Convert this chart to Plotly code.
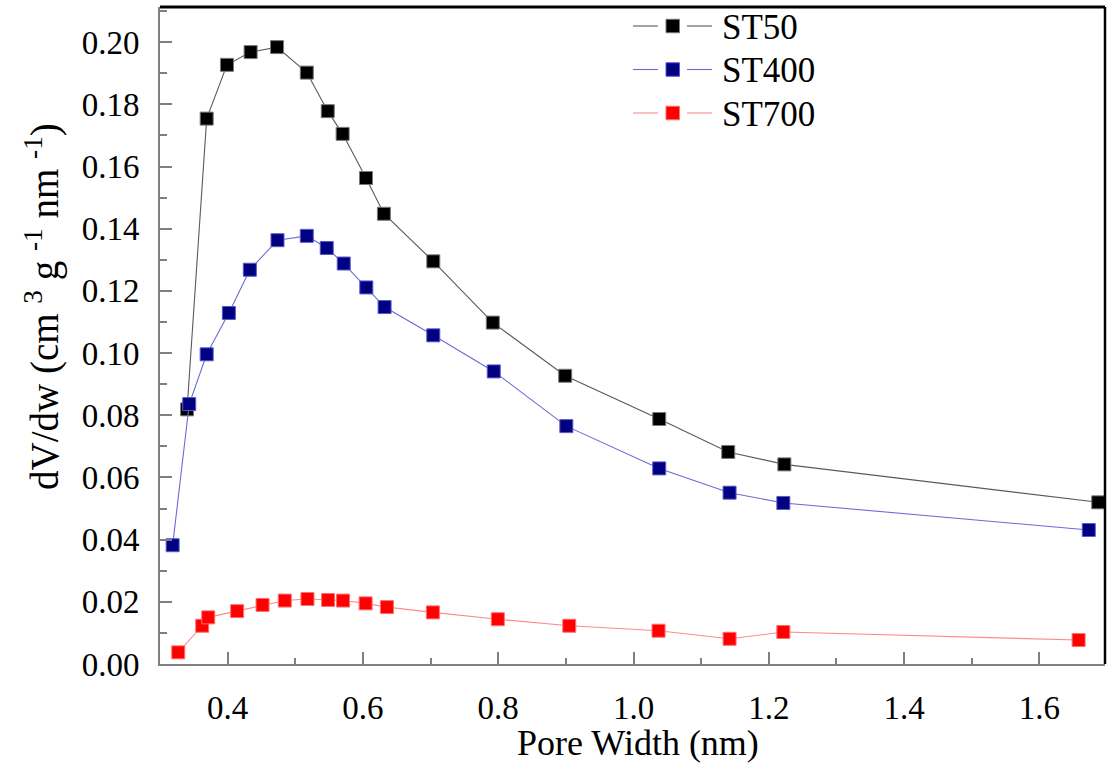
import plotly.graph_objects as go

# Pore size distribution (dV/dw) for three samples
st50_w = [0.340, 0.369, 0.399, 0.434, 0.473, 0.517, 0.548, 0.570, 0.6045, 0.631,
          0.704, 0.792, 0.899, 1.038, 1.140, 1.223, 1.687]
st50_v = [0.0819, 0.1754, 0.1927, 0.1968, 0.1984, 0.1902, 0.1778, 0.1705, 0.1563, 0.1448,
          0.1295, 0.1098, 0.0927, 0.0788, 0.0682, 0.0642, 0.0520]

st400_w = [0.3187, 0.3432, 0.369, 0.4018, 0.4328, 0.4737, 0.517, 0.5465, 0.5716, 0.605,
           0.632, 0.704, 0.7934, 0.9007, 1.038, 1.142, 1.2215, 1.673]
st400_v = [0.0382, 0.0836, 0.0996, 0.1129, 0.1268, 0.1363, 0.1377, 0.1338, 0.1288, 0.1211,
           0.1148, 0.1057, 0.0941, 0.0765, 0.0629, 0.0551, 0.0518, 0.0431]

st700_w = [0.327, 0.3624, 0.3713, 0.414, 0.4516, 0.4845, 0.518, 0.5485, 0.5706, 0.604,
           0.6355, 0.7034, 0.7994, 0.905, 1.037, 1.142, 1.2215, 1.658]
st700_v = [0.00375, 0.0123, 0.0150, 0.0170, 0.0190, 0.0204, 0.0209, 0.0206, 0.0204, 0.0195,
           0.0183, 0.0166, 0.0144, 0.0123, 0.0107, 0.0081, 0.0103, 0.0077]

series_names = ["ST50", "ST400", "ST700"]
x_ticks = [0.4, 0.6, 0.8, 1.0, 1.2, 1.4, 1.6]
y_ticks = [0.00, 0.02, 0.04, 0.06, 0.08, 0.10, 0.12, 0.14, 0.16, 0.18, 0.20]

FONT = "Liberation Serif, Times New Roman, serif"

styles = [
    dict(line="#5a5a5a", fill="#000000", edge="#7a7a7a"),
    dict(line="#6b6bd6", fill="#000080", edge="#5a5ad0"),
    dict(line="#ff8a8a", fill="#ff0000", edge="#ff7070"),
]

fig = go.Figure()
for name, xs, ys, st in zip(series_names,
                            [st50_w, st400_w, st700_w],
                            [st50_v, st400_v, st700_v],
                            styles):
    fig.add_trace(go.Scatter(
        x=xs, y=ys, name=name, mode="lines+markers",
        line=dict(color=st["line"], width=1.1),
        marker=dict(symbol="square", size=13, color=st["fill"],
                    line=dict(color=st["edge"], width=1)),
        showlegend=False,
    ))

# Hand-drawn legend box (line - square - line, then label)
W, H = 1113, 765
L, R, T, B = 160, 8, 7, 101
pw, ph = W - L - R, H - T - B


def px_x(px):
    return (px - L) / pw


def px_y(py):
    return (H - B - py) / ph


shapes = []
annotations = []
for i, (name, st) in enumerate(zip(series_names, styles)):
    yc = 26 + i * 43.5
    for x0, x1 in [(633, 658), (687, 712)]:
        shapes.append(dict(type="line", xref="paper", yref="paper",
                           x0=px_x(x0), x1=px_x(x1), y0=px_y(yc), y1=px_y(yc),
                           line=dict(color=st["line"], width=1.1)))
    shapes.append(dict(type="rect", xref="paper", yref="paper",
                       x0=px_x(666), x1=px_x(679.5), y0=px_y(yc - 6.75), y1=px_y(yc + 6.75),
                       fillcolor=st["fill"], line=dict(color=st["edge"], width=1)))
    annotations.append(dict(text=name, xref="paper", yref="paper",
                            x=px_x(720), y=px_y(yc + 1), xanchor="left", yanchor="middle",
                            showarrow=False, font=dict(family=FONT, size=35, color="black")))

# Frame: dark top and right edges
shapes.append(dict(type="line", xref="paper", yref="paper", x0=0, x1=1, y0=1, y1=1,
                   line=dict(color="black", width=3)))
shapes.append(dict(type="line", xref="paper", yref="paper", x0=1, x1=1, y0=0, y1=1,
                   line=dict(color="black", width=2.5)))

# Axis titles
annotations.append(dict(text="Pore Width (nm)", xref="paper", yref="paper",
                        x=px_x(638), y=px_y(743), xanchor="center", yanchor="middle",
                        showarrow=False, font=dict(family=FONT, size=36, color="black")))
annotations.append(dict(text="dV/dw (cm <sup>3</sup> g <sup>-1</sup> nm <sup>-1</sup>)",
                        xref="paper", yref="paper", x=px_x(42), y=px_y(307),
                        xanchor="center", yanchor="middle", textangle=-90,
                        showarrow=False, font=dict(family=FONT, size=39, color="black")))

fig.update_layout(
    width=W, height=H,
    margin=dict(l=L, r=R, t=T, b=B),
    paper_bgcolor="white", plot_bgcolor="white",
    font=dict(family=FONT, size=33, color="black"),
    shapes=shapes, annotations=annotations,
    showlegend=False,
)

fig.update_xaxes(
    range=[0.3, 1.697],
    tickmode="array", tickvals=x_ticks, ticktext=[f"{v:.1f}" for v in x_ticks],
    ticks="inside", ticklen=12, tickwidth=1.5, tickcolor="#808080",
    minor=dict(ticks="inside", ticklen=6, tickwidth=1.5, tickcolor="#808080", dtick=0.1, tick0=0.3),
    showline=True, linecolor="#808080", linewidth=2, mirror=False,
    showgrid=False, zeroline=False,
    tickfont=dict(family=FONT, size=33, color="black"),
    ticklabelstandoff=13,
)
fig.update_yaxes(
    range=[0.0, 0.2113],
    tickmode="array", tickvals=y_ticks, ticktext=[f"{v:.2f}" for v in y_ticks],
    ticks="inside", ticklen=12, tickwidth=1.5, tickcolor="#808080",
    minor=dict(ticks="inside", ticklen=7, tickwidth=1.5, tickcolor="#808080", dtick=0.01, tick0=0),
    showline=True, linecolor="#808080", linewidth=2, mirror=False,
    showgrid=False, zeroline=False,
    tickfont=dict(family=FONT, size=33, color="black"),
    ticklabelstandoff=12,
)

fig.write_html("out.html")
